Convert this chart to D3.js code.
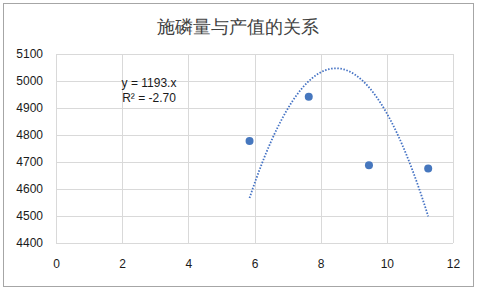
<!DOCTYPE html>
<html>
<head>
<meta charset="utf-8">
<script src="https://cdn.jsdelivr.net/npm/d3@7"></script>
<style>
  body { margin: 0; background: #fff; }
  text { font-family: "Liberation Sans", "DejaVu Sans", sans-serif; }
</style>
</head>
<body>
<script>
// 施磷量 (x) と 产值 (y)
const phosphorus = [5.85, 7.64, 9.46, 11.25];
const yieldValue = [4778, 4942, 4688, 4676];
// 二次トレンドライン係数 y = c2*x^2 + c1*x + c0
const trendCoef = [-70.5, 1193, 0];
const xTicks = [0, 2, 4, 6, 8, 10, 12];
const yTicks = [4400, 4500, 4600, 4700, 4800, 4900, 5000, 5100];
const titleText = "施磷量与产值的关系";
const eqLines = ["y = 1193.x", "R² = -2.70"];

const width = 477, height = 290;
const margin = {left: 56, right: 24, top: 54, bottom: 47};

const svg = d3.select("body").append("svg")
    .attr("width", width)
    .attr("height", height);

// 外枠
svg.append("rect")
    .attr("x", 3.5).attr("y", 3.5)
    .attr("width", width - 7).attr("height", height - 7)
    .attr("fill", "#fff")
    .attr("stroke", "#a6a6a6")
    .attr("stroke-width", 1);

const xScale = d3.scaleLinear()
    .domain([0, 12])
    .range([margin.left, width - margin.right]);

const yScale = d3.scaleLinear()
    .domain([4400, 5100])
    .range([height - margin.bottom, margin.top]);

// グリッド
svg.append("g")
    .selectAll("line.h")
    .data(yTicks)
    .join("line")
    .attr("x1", xScale(0)).attr("x2", xScale(12))
    .attr("y1", d => Math.round(yScale(d)) + 0.5)
    .attr("y2", d => Math.round(yScale(d)) + 0.5)
    .attr("stroke", "#d9d9d9");

svg.append("g")
    .selectAll("line.v")
    .data(xTicks)
    .join("line")
    .attr("y1", yScale(4400)).attr("y2", yScale(5100))
    .attr("x1", d => Math.round(xScale(d)) + 0.5)
    .attr("x2", d => Math.round(xScale(d)) + 0.5)
    .attr("stroke", "#d9d9d9");

// 軸ラベル
const yAxis = d3.axisLeft(yScale).tickValues(yTicks).tickFormat(d3.format("d")).tickSize(0).tickPadding(13);
svg.append("g")
    .attr("transform", `translate(${margin.left},0)`)
    .call(yAxis)
    .call(g => g.select(".domain").remove())
    .selectAll("text")
    .attr("font-size", 12)
    .attr("font-family", "Liberation Sans, sans-serif")
    .attr("fill", "#1a1a1a");

const xAxis = d3.axisBottom(xScale).tickValues(xTicks).tickFormat(d3.format("d")).tickSize(0).tickPadding(16);
svg.append("g")
    .attr("transform", `translate(0,${height - margin.bottom})`)
    .call(xAxis)
    .call(g => g.select(".domain").remove())
    .selectAll("text")
    .attr("font-size", 12)
    .attr("font-family", "Liberation Sans, sans-serif")
    .attr("fill", "#1a1a1a");

// トレンドライン
const trend = d3.range(phosphorus[0], phosphorus[phosphorus.length - 1] + 0.001, 0.05)
    .map(x => [x, trendCoef[0] * x * x + trendCoef[1] * x + trendCoef[2]]);

svg.append("path")
    .datum(trend)
    .attr("d", d3.line().x(d => xScale(d[0])).y(d => yScale(d[1])))
    .attr("fill", "none")
    .attr("stroke", "#4472c4")
    .attr("stroke-width", 1.8)
    .attr("stroke-dasharray", "1.5 1.6");

// 点
svg.append("g")
    .selectAll("circle")
    .data(phosphorus.map((x, i) => [x, yieldValue[i]]))
    .join("circle")
    .attr("cx", d => xScale(d[0]))
    .attr("cy", d => yScale(d[1]))
    .attr("r", 4)
    .attr("fill", "#4677be");

// 数式ラベル
svg.append("g")
    .selectAll("text")
    .data(eqLines)
    .join("text")
    .attr("x", 149)
    .attr("y", (d, i) => 86.5 + i * 15)
    .attr("text-anchor", "middle")
    .attr("font-size", 12)
    .attr("fill", "#1a1a1a")
    .text(d => d);

// タイトル
svg.append("text")
    .attr("x", 238)
    .attr("y", 33)
    .attr("text-anchor", "middle")
    .attr("font-size", 18)
    .attr("font-family", "Noto Sans CJK SC, sans-serif")
    .attr("font-weight", 300)
    .attr("fill", "#404040")
    .text(titleText);
</script>
</body>
</html>
